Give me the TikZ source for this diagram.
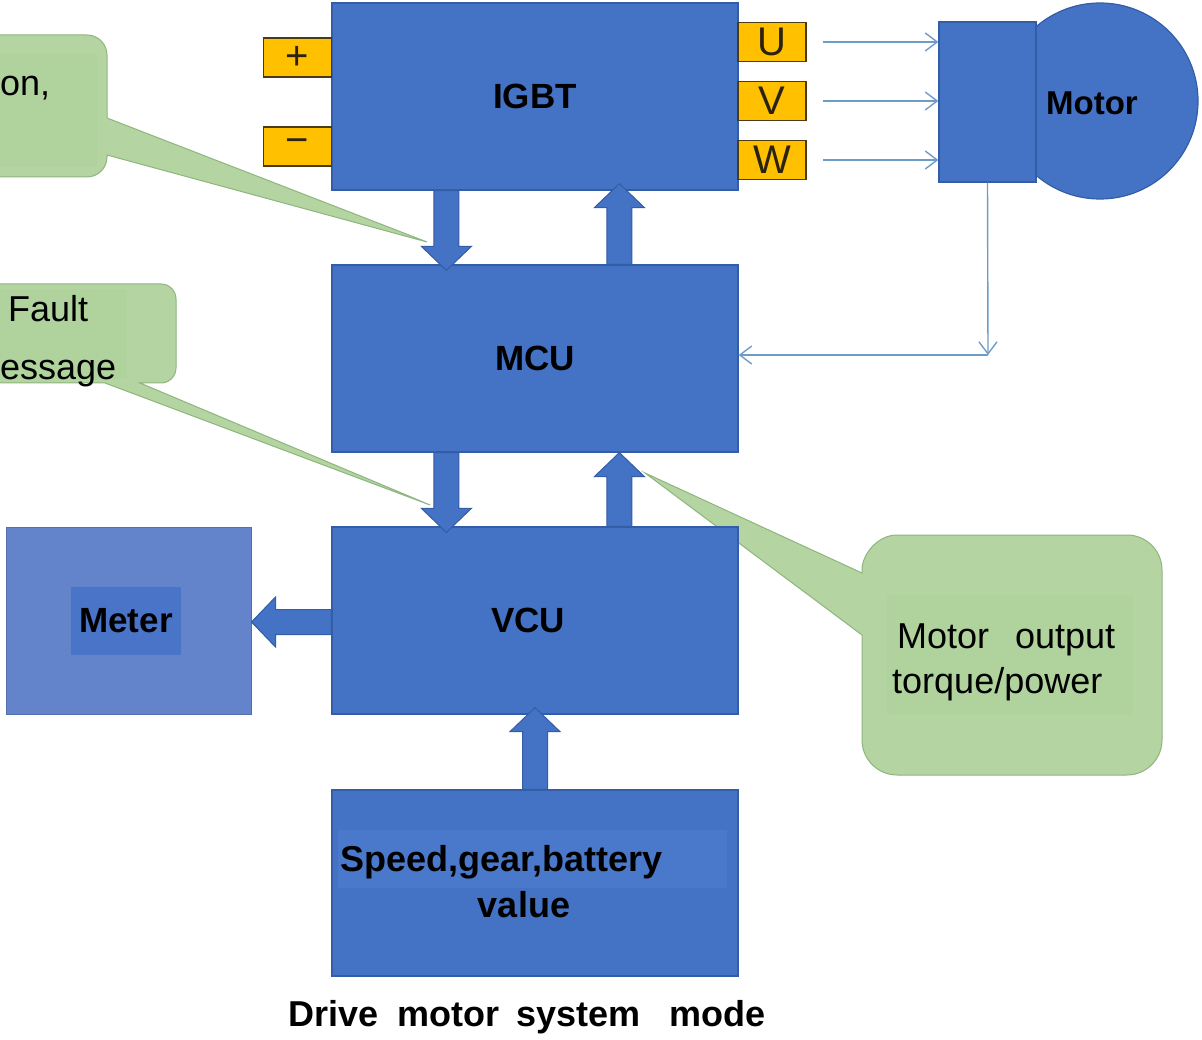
\documentclass[tikz,border=0pt]{standalone}
\usepackage{fontspec}
\setmainfont{Liberation Sans}
\usetikzlibrary{calc,arrows.meta}
\definecolor{bfill}{HTML}{4472C4}
\definecolor{bline}{HTML}{335DA6}
\definecolor{mfill}{HTML}{6383CB}
\definecolor{minner}{HTML}{4A74C8}
\definecolor{band}{HTML}{4A78CB}
\definecolor{gfill}{HTML}{B4D4A1}
\definecolor{gline}{HTML}{8FB57F}
\definecolor{ginner}{HTML}{B0D29C}
\definecolor{ofill}{HTML}{FFC000}
\definecolor{oline}{HTML}{4A3B12}
\definecolor{tdark}{HTML}{2B2210}
\definecolor{sigc}{HTML}{6E9CC8}
\newcommand\blk[2]{%
  \path[blkarrow] let \p1=(#1), \p2=(#2), \n1={veclen(\x2-\x1,\y2-\y1)},
    \n2={(\x2-\x1)/\n1}, \n3={(\y2-\y1)/\n1} in
    ({\x1-\n3*12.5pt},{\y1+\n2*12.5pt})
    -- ({\x2-\n2*24pt-\n3*12.5pt},{\y2-\n3*24pt+\n2*12.5pt})
    -- ({\x2-\n2*24pt-\n3*25pt},{\y2-\n3*24pt+\n2*25pt})
    -- (\x2,\y2)
    -- ({\x2-\n2*24pt+\n3*25pt},{\y2-\n3*24pt-\n2*25pt})
    -- ({\x2-\n2*24pt+\n3*12.5pt},{\y2-\n3*24pt-\n2*12.5pt})
    -- ({\x1+\n3*12.5pt},{\y1-\n2*12.5pt}) -- cycle;}
\begin{document}
\begin{tikzpicture}[x=1pt,y=-1pt,
  box/.style={draw=bline, line width=1.2pt, fill=bfill, inner sep=0pt,
    font=\bfseries\fontsize{35}{42}\selectfont},
  term/.style={draw=oline, fill=ofill, line width=1.2pt, minimum width=68pt,
    minimum height=39pt, inner sep=0pt, text=tdark, font=\fontsize{40}{40}\selectfont},
  sig/.style={draw=sigc, line width=1.4pt, -{Straight Barb[length=12pt,width=18pt]}},
  blkarrow/.style={fill=bfill, draw=bline, line width=1pt},
  callout/.style={fill=gfill, draw=gline, line width=1pt},
  lbl/.style={anchor=base west, inner sep=0pt, font=\fontsize{36}{40}\selectfont},
  blbl/.style={inner sep=0pt, font=\bfseries\fontsize{36}{40}\selectfont}]
\useasboundingbox (0,0) rectangle (1202,1040);
\clip (0,0) rectangle (1202,1040);

% callouts
\path[callout] (107,155) -- (427,242) -- (107,118) -- (107,55)
  .. controls (107,44) and (98,35) .. (87,35) -- (-60,35) -- (-60,177) -- (87,177)
  .. controls (98,177) and (107,168) .. (107,157) -- cycle;
\fill[ginner] (-60,53) rectangle (97,167);
\path[callout] (105,383) -- (430,505) -- (140,383) -- (161,383)
  .. controls (169.3,383) and (176,376.3) .. (176,368) -- (176,299)
  .. controls (176,290.7) and (169.3,284) .. (161,284) -- (-60,284) -- (-60,383) -- cycle;
\fill[ginner] (-60,289) rectangle (127,379);
\path[callout] (862,635) -- (645,473) -- (862,573) -- (862,570)
  .. controls (862,554.3) and (877.7,535) .. (897,535) -- (1127,535)
  .. controls (1146.3,535) and (1162,550.7) .. (1162,570) -- (1162,740)
  .. controls (1162,759.3) and (1146.3,775) .. (1127,775) -- (897,775)
  .. controls (877.7,775) and (862,759.3) .. (862,740) -- cycle;
\fill[ginner] (887,595) rectangle (1133,715);

\node[lbl] (t1) at (0,96) {on,};
\node[lbl] (t2) at (8,322) {Fault};
\node[lbl] (t3) at (0,380) {essage};
\node[lbl] (t4) at (897,648) {\makebox[218pt][s]{Motor\hfill output}};
\node[lbl] (t5) at (892,693) {torque/power};

% main boxes
\node[box, minimum width=406pt, minimum height=187pt] (igbt) at (535,96.5) {IGBT};
\node[box, minimum width=406pt, minimum height=187pt] (mcu) at (535,358.5) {MCU};
\node[box, minimum width=406pt, minimum height=187pt] (vcu) at (535,620.5) {\hspace*{-14pt}VCU};
\node[box, minimum width=406pt, minimum height=186pt] (inp) at (535,883) {};
\fill[band] (338,830) rectangle (727,888);
\node[blbl, anchor=base west] (speed) at (340,871) {Speed,gear,battery};
\node[blbl, anchor=base] (value) at (524,917) {value};

% meter
\node[draw=mfill!85!black, fill=mfill, line width=1pt, minimum width=245pt,
  minimum height=187pt, inner sep=0pt] (meter) at (128.5,620.5) {};
\node[fill=minner, minimum width=110pt, minimum height=68pt, inner sep=0pt,
  font=\bfseries\fontsize{35}{42}\selectfont] (meterlbl) at (126,621) {Meter};

% terminals
\node[term] (plus) at (297.5,57.5) {+};
\node[term] (minus) at (297.5,146.5) {−};
\node[term] (U) at (772,42) {U};
\node[term] (V) at (772,101) {V};
\node[term] (W) at (772,160) {W};

% motor
\node[circle, draw=bline, fill=bfill, line width=1.2pt, minimum size=196pt,
  inner sep=0pt] (mcirc) at (1100,101) {};
\node[draw=bline, fill=bfill, line width=1.2pt, minimum width=97pt,
  minimum height=160pt, inner sep=0pt] (mrect) at (987.5,102) {};
\node[inner sep=0pt, font=\bfseries\fontsize{33}{40}\selectfont] (mlbl) at (1092,103) {Motor};

% phase lines
\draw[sig, shorten <=16pt] (U.east) -- (U.east -| mrect.west);
\draw[sig, shorten <=16pt] (V.east) -- (V.east -| mrect.west);
\draw[sig, shorten <=16pt] (W.east) -- (W.east -| mrect.west);

% feedback
\coordinate (fb) at (988,355);
\draw[sig] (mrect.south) -- (fb);
\draw[sig] (fb) -- (fb -| mcu.east);

% block arrows
\coordinate (a1s) at ($(igbt.south west)+(115,0)$);
\coordinate (a1t) at ($(mcu.north west)+(115,6)$);
\coordinate (a2s) at ($(mcu.north west)+(288,0)$);
\coordinate (a2t) at ($(igbt.south west)+(288,-7)$);
\coordinate (a3s) at ($(mcu.south west)+(115,0)$);
\coordinate (a3t) at ($(vcu.north west)+(115,6)$);
\coordinate (a4s) at ($(vcu.north west)+(288,0)$);
\coordinate (a4t) at ($(mcu.south west)+(288,0)$);
\coordinate (a5s) at (inp.north);
\coordinate (a5t) at ($(vcu.south)+(0,-7)$);
\coordinate (a6s) at ($(vcu.west)+(0,1.5)$);
\coordinate (a6t) at ($(meter.east)+(0,1.5)$);
\blk{a1s}{a1t}
\blk{a2s}{a2t}
\blk{a3s}{a3t}
\blk{a4s}{a4t}
\blk{a5s}{a5t}
\blk{a6s}{a6t}

% caption
\node[blbl, anchor=base west] (cap) at (288,1026)
  {Drive\hspace{19pt}motor\hspace{17pt}system\hspace{29pt}mode};
\end{tikzpicture}
\end{document}
